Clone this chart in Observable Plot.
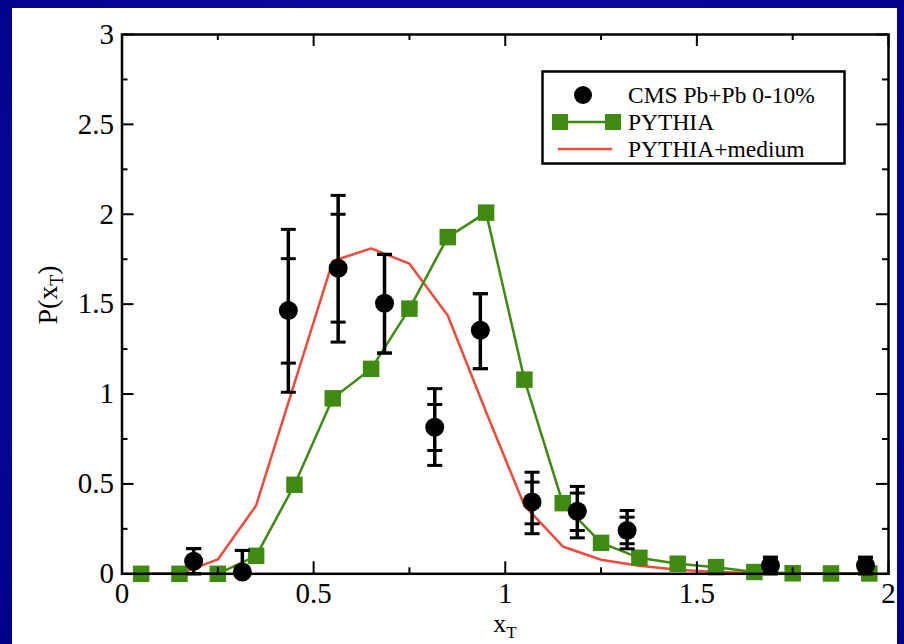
<!DOCTYPE html>
<html><head><meta charset="utf-8">
<script src="https://cdn.jsdelivr.net/npm/d3@7"></script>
<script src="https://cdn.jsdelivr.net/npm/@observablehq/plot@0.6"></script>
<style>
html,body{margin:0;padding:0;}
body{width:904px;height:644px;overflow:hidden;background:radial-gradient(ellipse at 50% 45%, #2020b8 0%, #0a0a9e 55%, #000088 100%);}
#wrap{position:relative;width:904px;height:644px;}
#panel{position:absolute;left:12px;top:8px;width:885px;height:636px;background:#fff;}
#chart{position:absolute;left:0;top:0;}
#legend{position:absolute;left:541px;top:70px;}
</style></head><body>
<div id="wrap"><div id="panel"></div><div id="chart"></div><div id="legend"></div></div>
<script>
// CMS Pb+Pb 0-10% data points
const cmsX    = [0.187, 0.314, 0.434, 0.564, 0.685, 0.816, 0.935, 1.070, 1.188, 1.318, 1.692, 1.940];
const cmsY    = [0.070, 0.010, 1.465, 1.700, 1.505, 0.815, 1.355, 0.400, 0.348, 0.241, 0.046, 0.046];
const cmsHi   = [0.140, 0.130, 1.916, 2.105, 1.777, 1.030, 1.558, 0.565, 0.486, 0.352, 0.092, 0.092];
const cmsLo   = [0.000, 0.000, 1.010, 1.289, 1.228, 0.603, 1.141, 0.223, 0.200, 0.139, 0.000, 0.000];
const cmsHiIn = [0.140, 0.130, 1.753, 2.000, 1.777, 0.942, 1.558, 0.510, 0.449, 0.315, 0.092, 0.092];
const cmsLoIn = [0.000, 0.000, 1.172, 1.400, 1.228, 0.686, 1.141, 0.278, 0.241, 0.167, 0.000, 0.000];
// PYTHIA curves
const pyX     = [0.05, 0.15, 0.25, 0.35, 0.45, 0.55, 0.65, 0.75, 0.85, 0.95, 1.05, 1.15, 1.25, 1.35, 1.45, 1.55, 1.65, 1.75, 1.85, 1.95];
const pythiaY = [0, 0, 0, 0.10, 0.495, 0.976, 1.14, 1.475, 1.873, 2.009, 1.08, 0.393, 0.172, 0.089, 0.056, 0.037, 0.010, 0.003, 0.002, 0.002];
const mediumY = [0, 0, 0.08, 0.38, 1.06, 1.74, 1.81, 1.725, 1.437, 0.90, 0.38, 0.152, 0.078, 0.045, 0.022, 0.010, 0.005, 0.003, 0.002, 0.001];
// ticks
const xTicks = [0, 0.5, 1, 1.5, 2];
const xMinor = [0.25, 0.75, 1.25, 1.75];
const yTicks = [0, 0.5, 1, 1.5, 2, 2.5, 3];
const yMinor = [0.25, 0.75, 1.25, 1.75, 2.25, 2.75];
const legendLabels = ["CMS Pb+Pb 0-10%", "PYTHIA", "PYTHIA+medium"];

const GREEN = "#3f8a10", RED = "#f04a3c";
const FONT = "'Liberation Serif', 'Times New Roman', serif";

const cms = cmsX.map((x, i) => ({x, y: cmsY[i], hi: cmsHi[i], lo: cmsLo[i], hiIn: cmsHiIn[i], loIn: cmsLoIn[i]}));
const pythia = pyX.map((x, i) => ({x, y: pythiaY[i]}));
const medium = pyX.map((x, i) => ({x, y: mediumY[i]}));

const cap = {draw(ctx) { ctx.moveTo(-7.5, 0); ctx.lineTo(7.5, 0); }};

const W = 904, H = 644, mL = 121.5, mR = 16, mT = 34, mB = 70.7;
const pW = W - mL - mR, pH = H - mT - mB;

const chart = Plot.plot({
  width: W, height: H,
  marginLeft: mL, marginRight: mR, marginTop: mT, marginBottom: mB,
  style: {background: "transparent", fontFamily: FONT, color: "black", overflow: "visible"},
  x: {domain: [0, 2]},
  y: {domain: [0, 3]},
  marks: [
    Plot.line(medium, {x: "x", y: "y", stroke: RED, strokeWidth: 2.5}),
    Plot.line(pythia, {x: "x", y: "y", stroke: GREEN, strokeWidth: 2.5}),
    Plot.dot(pythia, {x: "x", y: "y", symbol: "square", r: 9.3, fill: GREEN}),
    Plot.ruleX(cms, {x: "x", y1: "lo", y2: "hi", stroke: "black", strokeWidth: 3.5}),
    Plot.dot(cms, {x: "x", y: "hi", symbol: cap, stroke: "black", strokeWidth: 3}),
    Plot.dot(cms, {x: "x", y: "lo", symbol: cap, stroke: "black", strokeWidth: 3}),
    Plot.dot(cms, {x: "x", y: "hiIn", symbol: cap, stroke: "black", strokeWidth: 3}),
    Plot.dot(cms, {x: "x", y: "loIn", symbol: cap, stroke: "black", strokeWidth: 3}),
    Plot.dot(cms, {x: "x", y: "y", r: 9.5, fill: "black"}),
    // inward ticks, all four sides
    Plot.tickX(xTicks, {x: d => d, insetTop: pH - 12, stroke: "black", strokeWidth: 2}),
    Plot.tickX(xTicks, {x: d => d, insetBottom: pH - 12, stroke: "black", strokeWidth: 2}),
    Plot.tickX(xMinor, {x: d => d, insetTop: pH - 6, stroke: "black", strokeWidth: 2}),
    Plot.tickX(xMinor, {x: d => d, insetBottom: pH - 6, stroke: "black", strokeWidth: 2}),
    Plot.tickY(yTicks, {y: d => d, insetRight: pW - 12, stroke: "black", strokeWidth: 2}),
    Plot.tickY(yTicks, {y: d => d, insetLeft: pW - 12, stroke: "black", strokeWidth: 2}),
    Plot.tickY(yMinor, {y: d => d, insetRight: pW - 6, stroke: "black", strokeWidth: 2}),
    Plot.tickY(yMinor, {y: d => d, insetLeft: pW - 6, stroke: "black", strokeWidth: 2}),
    Plot.frame({stroke: "black", strokeWidth: 2.5}),
    Plot.axisX({ticks: xTicks, tickSize: 0, tickPadding: 9, fontSize: 29, tickFormat: d => String(d), label: null}),
    Plot.axisY({ticks: yTicks, tickSize: 0, tickPadding: 8, fontSize: 29, tickFormat: d => String(d), label: null})
  ]
});
document.getElementById("chart").appendChild(chart);

const svg = d3.select(chart);
// y label P(x_T)
const yl = svg.append("text")
  .attr("transform", "translate(57,295) rotate(-90)")
  .attr("text-anchor", "middle")
  .attr("font-family", FONT).attr("font-size", 28).attr("fill", "black");
yl.append("tspan").text("P(x");
yl.append("tspan").attr("font-size", 18).attr("dy", 6).text("T");
yl.append("tspan").attr("dy", -6).text(")");
// x label x_T
const xl = svg.append("text")
  .attr("x", 505).attr("y", 632)
  .attr("text-anchor", "middle")
  .attr("font-family", FONT).attr("font-size", 26).attr("fill", "black");
xl.append("tspan").text("x");
xl.append("tspan").attr("font-size", 17).attr("dy", 6).text("T");

// legend
const rowY = [25, 52, 79];
const lg = d3.select("#legend").append("svg").attr("width", 306).attr("height", 96);
lg.append("rect").attr("x", 1.5).attr("y", 1.5).attr("width", 302).attr("height", 92)
  .attr("fill", "white").attr("stroke", "black").attr("stroke-width", 2.5);
lg.append("circle").attr("cx", 42).attr("cy", rowY[0]).attr("r", 9).attr("fill", "black");
lg.append("line").attr("x1", 19).attr("x2", 72).attr("y1", rowY[1]).attr("y2", rowY[1]).attr("stroke", GREEN).attr("stroke-width", 2.5);
lg.append("rect").attr("x", 11).attr("y", rowY[1] - 8).attr("width", 16).attr("height", 16).attr("fill", GREEN);
lg.append("rect").attr("x", 64).attr("y", rowY[1] - 8).attr("width", 16).attr("height", 16).attr("fill", GREEN);
lg.append("line").attr("x1", 17).attr("x2", 71).attr("y1", rowY[2]).attr("y2", rowY[2]).attr("stroke", RED).attr("stroke-width", 2.5);
lg.selectAll("text.l").data(legendLabels).join("text")
  .attr("x", 87).attr("y", (d, i) => rowY[i] + 8)
  .attr("font-family", FONT).attr("font-size", 23.5).attr("fill", "black")
  .text(d => d);
</script>
</body></html>
